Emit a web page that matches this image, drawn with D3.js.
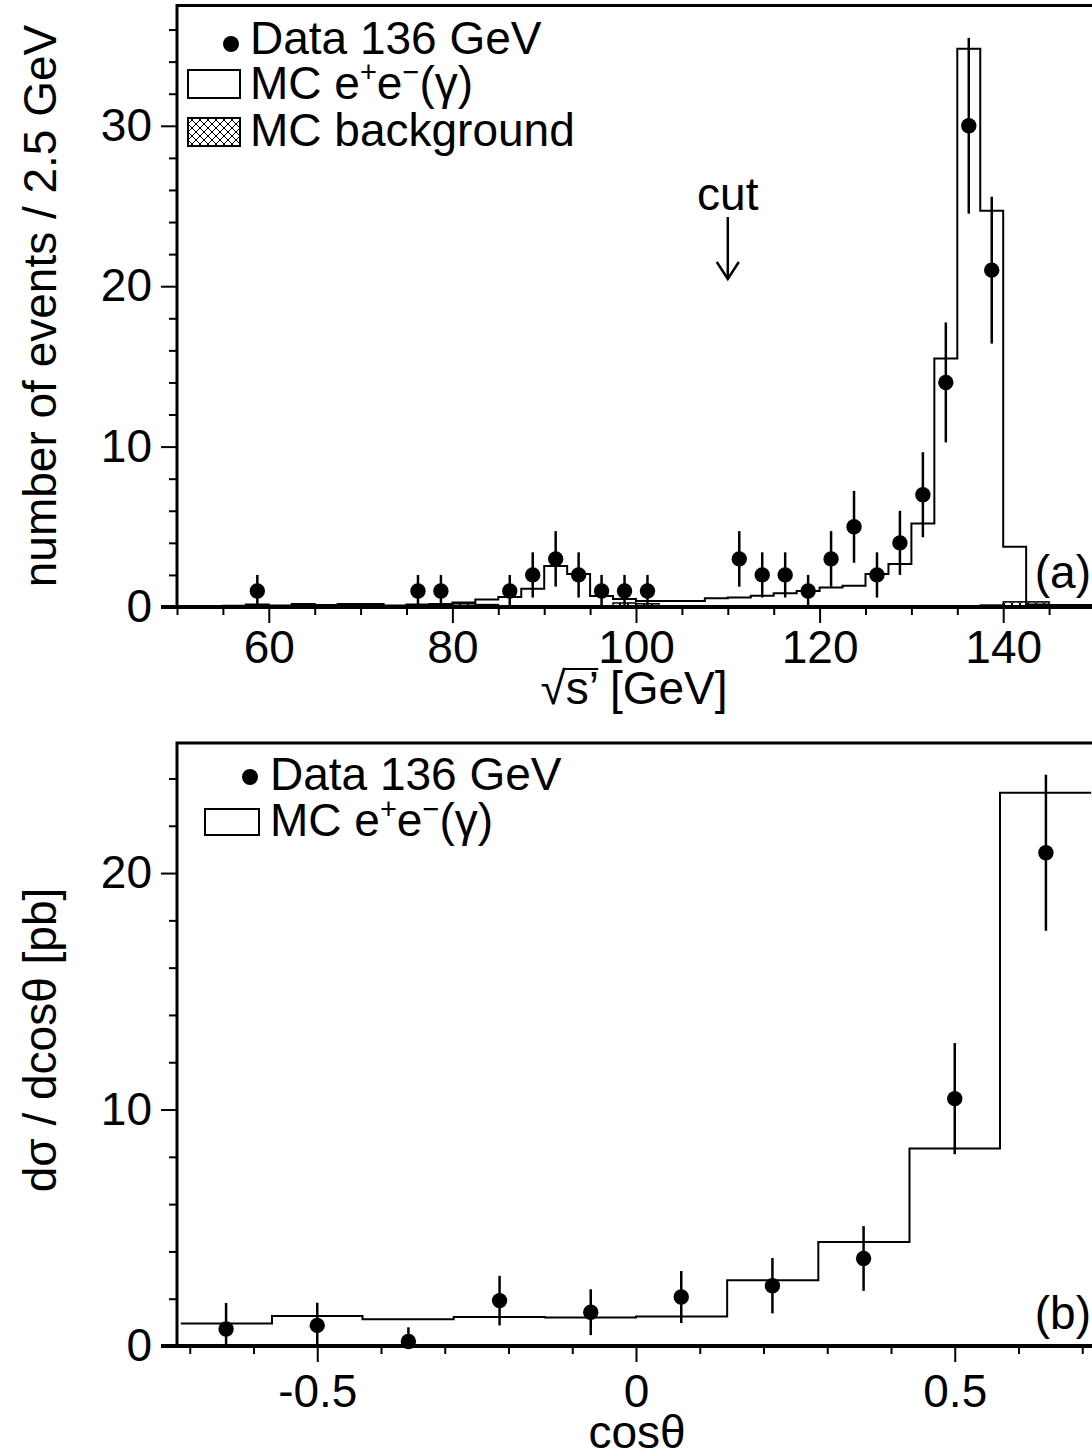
<!DOCTYPE html>
<html>
<head>
<meta charset="utf-8">
<script src="https://cdn.jsdelivr.net/npm/d3@7"></script>
<style>
  body { margin: 0; background: #fff; }
  text { font-family: "Liberation Sans", Arial, Helvetica, sans-serif; fill: #000; }
</style>
</head>
<body>
<svg id="chart"></svg>
<script>
// ---- panel (a): sqrt(s') spectrum, 2.5 GeV bins ----
const sBinLow = [50, 52.5, 55, 57.5, 60, 62.5, 65, 67.5, 70, 72.5,
                 75, 77.5, 80, 82.5, 85, 87.5, 90, 92.5, 95, 97.5,
                 100, 102.5, 105, 107.5, 110, 112.5, 115, 117.5, 120, 122.5,
                 125, 127.5, 130, 132.5, 135, 137.5, 140, 142.5, 145, 147.5];
const mcSignal = [0.05, 0.05, 0.08, 0.15, 0.1, 0.18, 0.12, 0.18, 0.18, 0.1,
                  0.15, 0.18, 0.28, 0.46, 0.62, 1.14, 2.55, 2.05, 0.68, 0.5,
                  0.37, 0.37, 0.37, 0.54, 0.6, 0.7, 0.85, 1.0, 1.22, 1.33,
                  2.05, 2.68, 5.2, 15.5, 34.8, 24.7, 3.75, 0.15, 0.12, 0.12];
const mcBackground = [0.02, 0.02, 0.02, 0.02, 0.02, 0.02, 0.02, 0.02, 0.02, 0.02,
                      0.02, 0.02, 0.2, 0.15, 0.05, 0.05, 0.05, 0.05, 0.05, 0.25,
                      0.2, 0.05, 0.05, 0.05, 0.05, 0.05, 0.05, 0.05, 0.05, 0.05,
                      0.05, 0.05, 0.05, 0.05, 0.05, 0.12, 0.32, 0.32, 0.1, 0.1];
const dataS = [58.75, 76.25, 78.75, 86.25, 88.75, 91.25, 93.75, 96.25, 98.75, 101.25,
               111.25, 113.75, 116.25, 118.75, 121.25, 123.75, 126.25, 128.75, 131.25,
               133.75, 136.25, 138.75];
const dataN = [1, 1, 1, 1, 2, 3, 2, 1, 1, 1, 3, 2, 2, 1, 3, 5, 2, 4, 7, 14, 30, 21];
const dataNErr = [1, 1, 1, 1, 1.41, 1.73, 1.41, 1, 1, 1, 1.73, 1.41, 1.41, 1, 1.73,
                  2.24, 1.41, 2, 2.65, 3.74, 5.48, 4.58];
const sMajor = [60, 80, 100, 120, 140];
const sMinor = [50, 55, 65, 70, 75, 85, 90, 95, 105, 110, 115, 125, 130, 135, 145, 150];
const nMajor = [0, 10, 20, 30];
const nMinor = [2, 4, 6, 8, 12, 14, 16, 18, 22, 24, 26, 28, 32, 34, 36];
const cutValue = 110;

// ---- panel (b): angular distribution ----
const cosBinLow = [-0.714, -0.571, -0.429, -0.286, -0.143, 0, 0.143, 0.286, 0.429, 0.571];
const cosBinEnd = 0.714;
const mcCos = [0.95, 1.27, 1.13, 1.23, 1.2, 1.25, 2.78, 4.4, 8.35, 23.4];
const dataCos = [-0.643, -0.5, -0.357, -0.214, -0.071, 0.071, 0.214, 0.357, 0.5, 0.643];
const dataSigma = [0.72, 0.87, 0.19, 1.92, 1.43, 2.07, 2.55, 3.7, 10.46, 20.86];
const dataSigmaErr = [1.1, 0.96, 0.6, 1.05, 0.97, 1.1, 1.17, 1.37, 2.35, 3.3];
const cosMajor = [-0.5, 0, 0.5];
const cosMinor = [-0.7, -0.6, -0.4, -0.3, -0.2, -0.1, 0.1, 0.2, 0.3, 0.4, 0.6, 0.7];
const sigMajor = [0, 10, 20];
const sigMinor = [2, 4, 6, 8, 12, 14, 16, 18, 22, 24];

const W = 1092, H = 1454, FS = 46;
const svg = d3.select("#chart").attr("width", W).attr("height", H);
svg.append("rect").attr("width", W).attr("height", H).attr("fill", "#fff");

const pat = svg.append("defs").append("pattern")
  .attr("id", "hatch").attr("patternUnits", "userSpaceOnUse")
  .attr("width", 8).attr("height", 8);
pat.append("rect").attr("width", 8).attr("height", 8).attr("fill", "#fff");
pat.append("path").attr("d", "M0,0L8,8M8,0L0,8").attr("stroke", "#000").attr("stroke-width", 1);

function axes(g, x, y, xMaj, xMin, yMaj, yMin, labPad) {
  const [y0] = y.range();
  const [x0] = x.range();
  g.append("g").attr("transform", `translate(0,${y0})`)
    .call(d3.axisBottom(x).tickValues(xMin).tickSize(8).tickFormat(""));
  g.append("g").attr("transform", `translate(0,${y0})`)
    .call(d3.axisBottom(x).tickValues(xMaj).tickSize(16).tickPadding(labPad)
      .tickFormat(d => String(d)));
  g.append("g").attr("transform", `translate(${x0},0)`)
    .call(d3.axisLeft(y).tickValues(yMin).tickSize(8).tickFormat(""));
  g.append("g").attr("transform", `translate(${x0},0)`)
    .call(d3.axisLeft(y).tickValues(yMaj).tickSize(16).tickPadding(9)
      .tickFormat(d => String(d)));
  g.selectAll(".domain").remove();
  g.selectAll(".tick line").attr("stroke", "#000").attr("stroke-width", 2);
  g.selectAll(".tick text").attr("font-size", FS).attr("font-family", null).attr("fill", "#000");
  const [xa, xb] = x.range(), [ya, yb] = y.range();
  g.append("rect").attr("x", xa).attr("y", yb).attr("width", xb - xa).attr("height", ya - yb)
    .attr("fill", "none").attr("stroke", "#000").attr("stroke-width", 3);
  g.append("line").attr("x1", xa - 16).attr("x2", xb).attr("y1", ya).attr("y2", ya)
    .attr("stroke", "#000").attr("stroke-width", 4);
}

function stepPath(lows, end, vals, x, y) {
  const pts = lows.map((l, i) => [l, vals[i]]);
  pts.push([end, vals[vals.length - 1]]);
  return d3.line().x(d => x(d[0])).y(d => y(d[1])).curve(d3.curveStepAfter)(pts);
}

function points(g, xs, ys, es, x, y) {
  xs.forEach((v, i) => {
    g.append("line").attr("x1", x(v)).attr("x2", x(v))
      .attr("y1", y(Math.max(0, ys[i] - es[i]))).attr("y2", y(ys[i] + es[i]))
      .attr("stroke", "#000").attr("stroke-width", 2.5);
    g.append("circle").attr("cx", x(v)).attr("cy", y(ys[i])).attr("r", 7.7).attr("fill", "#000");
  });
}

function mcLabel(g, xPos, yPos) {
  const t = g.append("text").attr("x", xPos).attr("y", yPos).attr("font-size", FS);
  t.append("tspan").text("MC e");
  t.append("tspan").attr("dy", -17).attr("font-size", 29).text("+");
  t.append("tspan").attr("dy", 17).text("e");
  t.append("tspan").attr("dy", -17).attr("font-size", 29).text("\u2212");
  t.append("tspan").attr("dy", 17).text("(\u03b3)");
}

// ===== panel (a) =====
const x1 = d3.scaleLinear().domain([50, 150]).range([177, 1095]);
const y1 = d3.scaleLinear().domain([0, 37.5]).range([607, 5.5]);
const gA = svg.append("g");

gA.selectAll("rect.bg").data(sBinLow).join("rect").attr("class", "bg")
  .attr("x", d => x1(d)).attr("width", x1(52.5) - x1(50))
  .attr("y", (d, i) => y1(mcBackground[i]))
  .attr("height", (d, i) => y1(0) - y1(mcBackground[i]))
  .attr("fill", "url(#hatch)").attr("stroke", "#000").attr("stroke-width", 1.5);

gA.append("path").attr("d", stepPath(sBinLow, 150, mcSignal, x1, y1))
  .attr("fill", "none").attr("stroke", "#000").attr("stroke-width", 2);

points(gA, dataS, dataN, dataNErr, x1, y1);
axes(gA, x1, y1, sMajor, sMinor, nMajor, nMinor, 7);

// cut arrow
const cx = x1(cutValue);
gA.append("text").attr("x", cx).attr("y", 210).attr("text-anchor", "middle").attr("font-size", FS).text("cut");
gA.append("line").attr("x1", cx).attr("x2", cx).attr("y1", 217).attr("y2", 279)
  .attr("stroke", "#000").attr("stroke-width", 2.5);
gA.append("path").attr("d", `M${cx - 11},262L${cx},279L${cx + 11},262`)
  .attr("fill", "none").attr("stroke", "#000").attr("stroke-width", 2.5);

gA.append("text").attr("x", 1091).attr("y", 588).attr("text-anchor", "end").attr("font-size", FS).text("(a)");

// legend (a)
gA.append("circle").attr("cx", 231).attr("cy", 44).attr("r", 8).attr("fill", "#000");
gA.append("text").attr("x", 250).attr("y", 54).attr("font-size", FS).text("Data 136 GeV");
gA.append("rect").attr("x", 188).attr("y", 70).attr("width", 52).attr("height", 28)
  .attr("fill", "#fff").attr("stroke", "#000").attr("stroke-width", 2);
mcLabel(gA, 250, 99);
gA.append("rect").attr("x", 188).attr("y", 118).attr("width", 52).attr("height", 28)
  .attr("fill", "url(#hatch)").attr("stroke", "#000").attr("stroke-width", 2);
gA.append("text").attr("x", 250).attr("y", 146).attr("font-size", FS).text("MC background");

// axis titles (a)
gA.append("text").attr("transform", "rotate(-90)").attr("x", -306).attr("y", 56)
  .attr("text-anchor", "middle").attr("font-size", FS).text("number of events / 2.5 GeV");
const xt = gA.append("text").attr("x", 634).attr("y", 704).attr("text-anchor", "middle").attr("font-size", FS);
xt.append("tspan").text("\u221a");
xt.append("tspan").text("s\u2019");
xt.append("tspan").text(" [GeV]");
const tn = xt.node();
const e1 = tn.getExtentOfChar(1), e2 = tn.getExtentOfChar(2);
gA.append("line").attr("x1", e1.x - 1).attr("x2", e2.x + e2.width + 1)
  .attr("y1", 669).attr("y2", 669).attr("stroke", "#000").attr("stroke-width", 2);

// ===== panel (b) =====
const x2 = d3.scaleLinear().domain([-0.72, 0.72]).range([177, 1095]);
const y2 = d3.scaleLinear().domain([0, 25.5]).range([1346, 743]);
const gB = svg.append("g");

gB.append("path").attr("d", stepPath(cosBinLow, cosBinEnd, mcCos, x2, y2))
  .attr("fill", "none").attr("stroke", "#000").attr("stroke-width", 2);
points(gB, dataCos, dataSigma, dataSigmaErr, x2, y2);
axes(gB, x2, y2, cosMajor, cosMinor, sigMajor, sigMinor, 12);

gB.append("text").attr("x", 1091).attr("y", 1329).attr("text-anchor", "end").attr("font-size", FS).text("(b)");

// legend (b)
gB.append("circle").attr("cx", 250).attr("cy", 777).attr("r", 8).attr("fill", "#000");
gB.append("text").attr("x", 270).attr("y", 790).attr("font-size", FS).text("Data 136 GeV");
gB.append("rect").attr("x", 205).attr("y", 809).attr("width", 54).attr("height", 26)
  .attr("fill", "#fff").attr("stroke", "#000").attr("stroke-width", 2);
mcLabel(gB, 270, 836);

gB.append("text").attr("transform", "rotate(-90)").attr("x", -1040).attr("y", 56)
  .attr("text-anchor", "middle").attr("font-size", FS).text("d\u03c3 / dcos\u03b8 [pb]");
gB.append("text").attr("x", 637).attr("y", 1448).attr("text-anchor", "middle")
  .attr("font-size", FS).text("cos\u03b8");
</script>
</body>
</html>
